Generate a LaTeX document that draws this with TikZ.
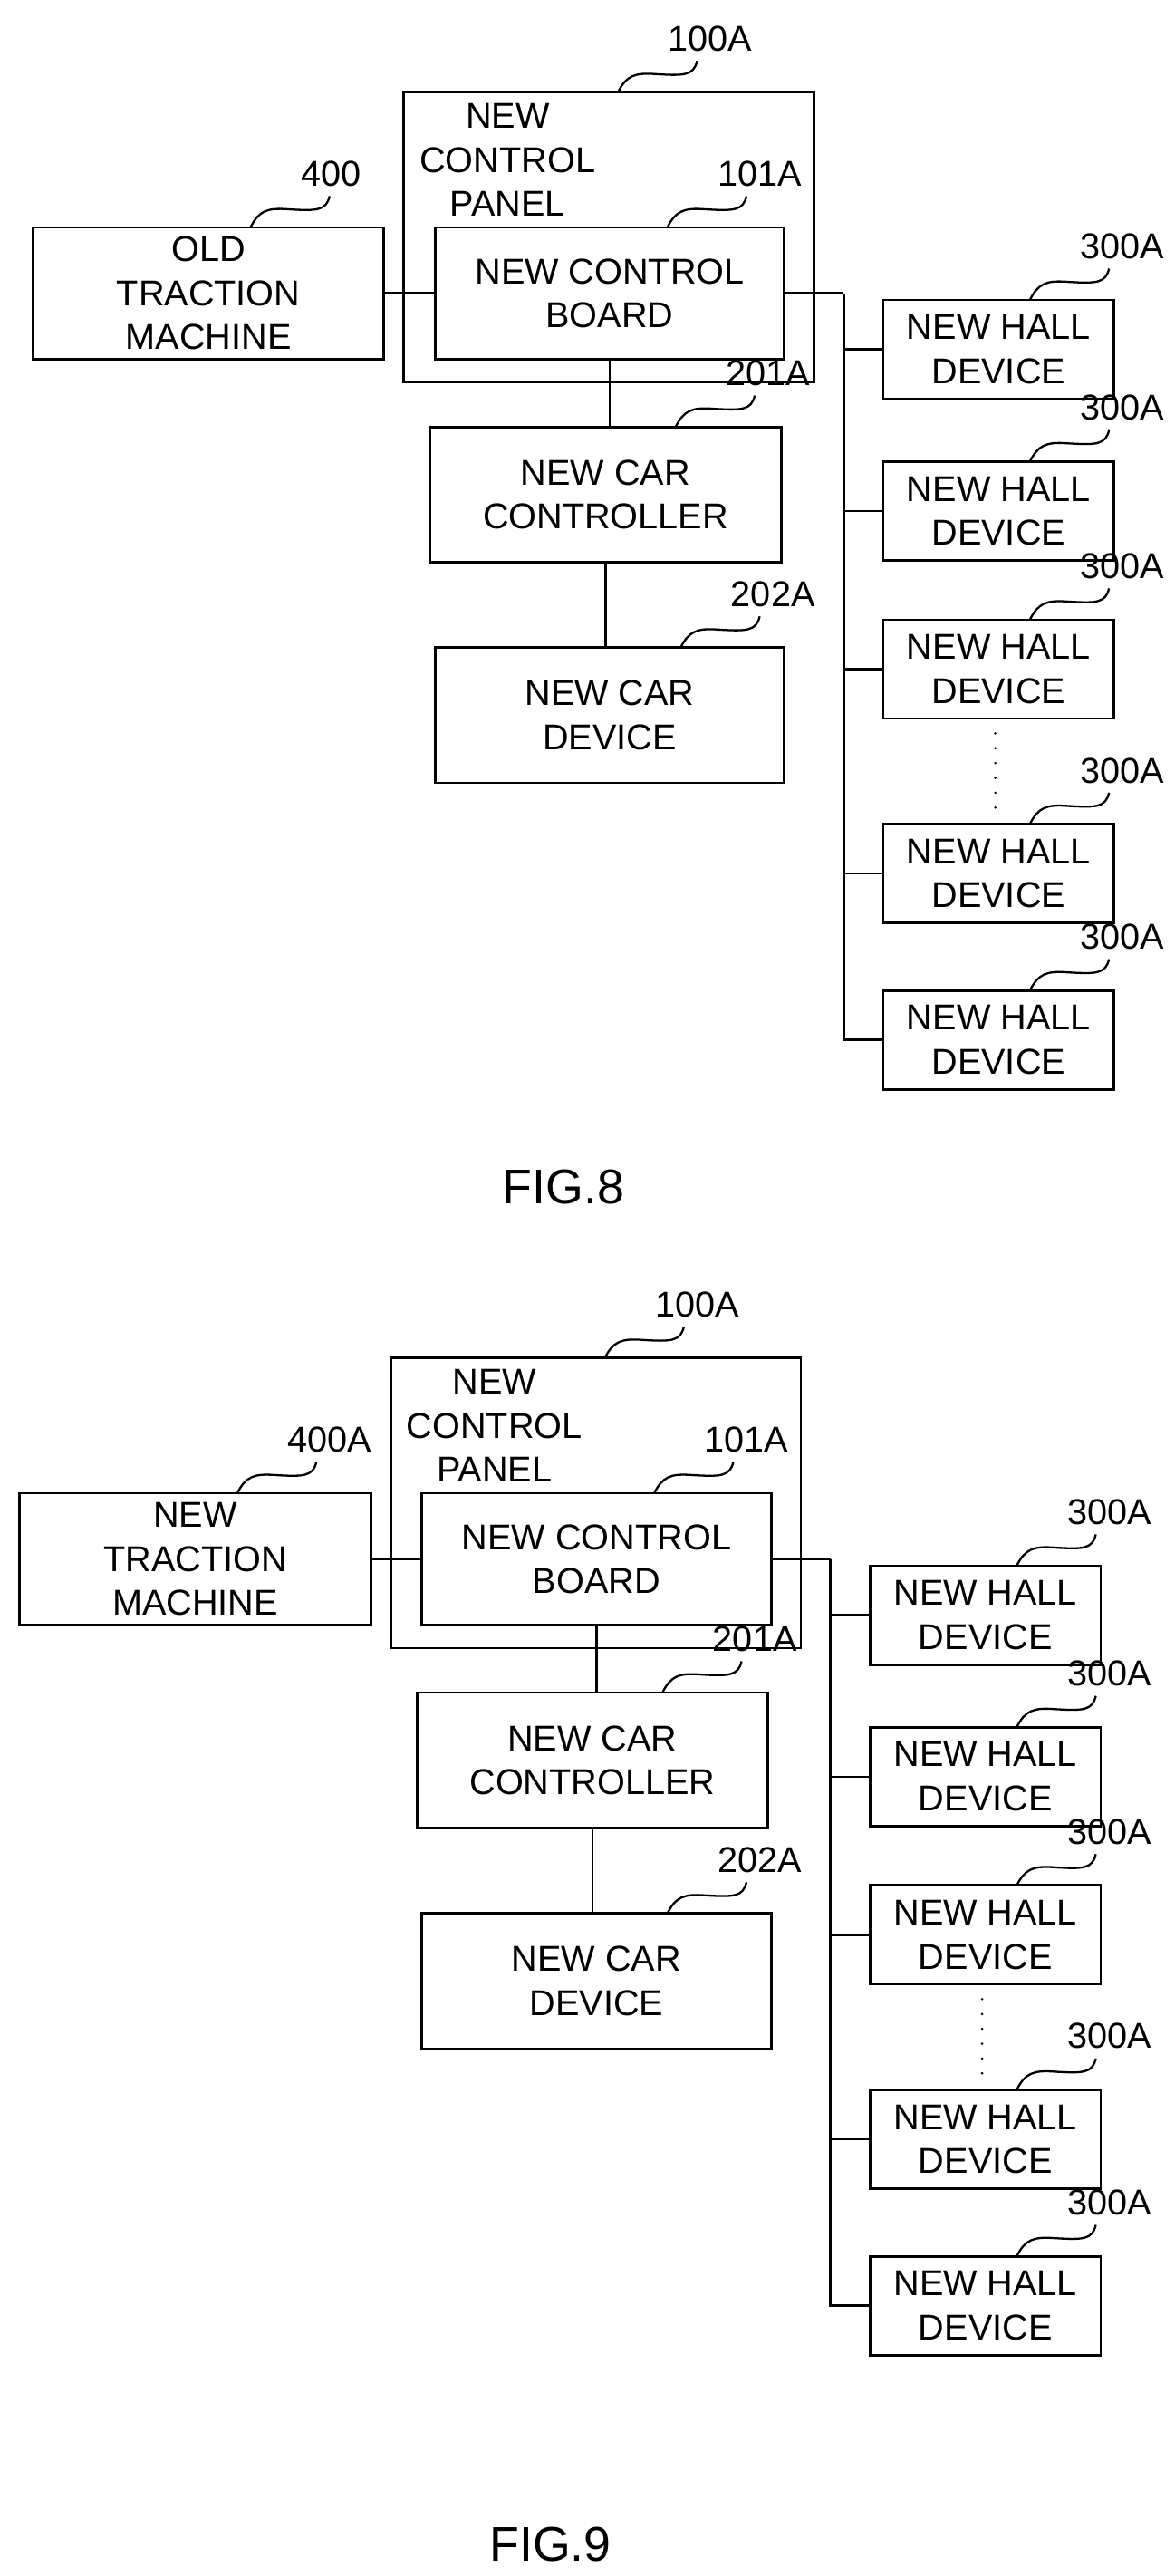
\documentclass[tikz,border=0pt]{standalone}
\usepackage{fontspec}
\setmainfont{Liberation Sans}
\usetikzlibrary{positioning, calc}

\newcommand{\lead}[2]{% squiggle from box edge to its label
  \draw[thin line] (#1) .. controls +(5,-10) and +(-13,-1) .. ++(23,-11)
    .. controls +(17,1) and +(-2,9) .. ++(25,-8)
    node[anchor=base west, inner sep=0pt, xshift=-0.9cm, yshift=0.3cm] {#2};
}

\newcommand{\liftfig}[3]{%
  \begin{scope}[shift={(#1)}]
    % control panel and board
    \node[box, minimum width=249*0.05cm, minimum height=176*0.05cm] (panel) at (369.5,144) {};
    \node[txt] (ptext) at (308,97) {NEW\\CONTROL\\PANEL};
    \node[box, minimum width=212*0.05cm, minimum height=80*0.05cm] (board) at (370,178) {NEW CONTROL\\BOARD};
    \node[box, minimum width=213*0.05cm, minimum height=80*0.05cm] (trac) at (126.5,178) {#2\\TRACTION\\MACHINE};
    % car side
    \node[box, minimum width=213*0.05cm, minimum height=82*0.05cm] (ctrl) at (367.5,300) {NEW CAR\\CONTROLLER};
    \node[box, minimum width=212*0.05cm, minimum height=82*0.05cm] (dev) at (370,434) {NEW CAR\\DEVICE};
    % hall devices
    \coordinate (bus) at (512,178);
    \foreach \i/\y in {1/212, 2/310, 3/406, 4/530, 5/631} {
      \node[box, minimum width=140*0.05cm, minimum height=60*0.05cm] (hall\i) at (606,\y) {NEW HALL\\DEVICE};
      \lead{625,\y-30}{300A}
      \draw[wire] (bus) |- (hall\i.west);
    }
    \foreach \y in {445,454,...,490} \fill (604,\y) circle (1.1pt);

    \draw[wire] (trac) -- (board);
    \draw[wire] (board.east) -- (bus);
    \draw[wire] (board.south) -- (board.south |- ctrl.north);
    \draw[wire] (ctrl.south) -- (ctrl.south |- dev.north);

    % labels
    \lead{375,56}{100A}
    \lead{405,138}{101A}
    \lead{152,138}{#3}
    \lead{410,259}{201A}
    \lead{413,393}{202A}
  \end{scope}
}

\begin{document}
\begin{tikzpicture}[x=0.05cm, y=-0.05cm,
    every node/.style={font=\fontsize{31}{38}\selectfont},
    box/.style={rectangle, draw, line width=2.2pt, align=center, inner sep=0pt},
    txt/.style={align=center, inner sep=0pt},
    wire/.style={line width=2pt},
    thin line/.style={line width=1.8pt},
    fig/.style={font=\fontsize{42}{50}\selectfont}
  ]
  \useasboundingbox (0,0) rectangle (713,1563);

  \liftfig{0,0}{OLD}{400}
  \node[fig] (fig8) at (342,720) {FIG.8};

  \liftfig{-8,768}{NEW}{400A}
  \node[fig] (fig9) at (334,1544) {FIG.9};
\end{tikzpicture}
\end{document}
